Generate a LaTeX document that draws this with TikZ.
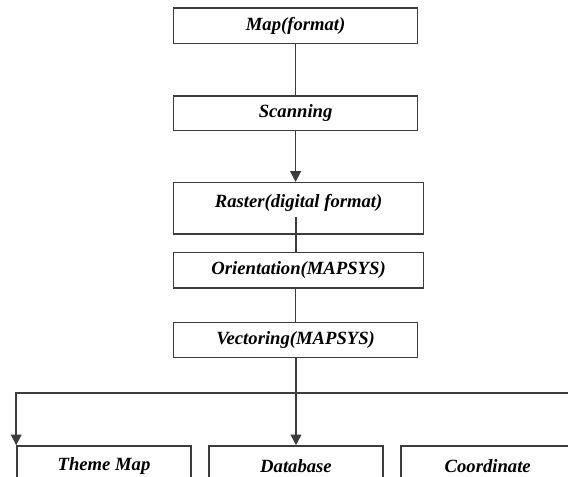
\documentclass[tikz,border=0pt]{standalone}
\usepackage{fontspec}
\setmainfont{Liberation Serif}
\usepackage{tikz}
\usetikzlibrary{
  arrows.meta,
  positioning
}
\definecolor{boxline}{RGB}{60, 60, 60}

\begin{document}
\begin{tikzpicture}[
  x=0.75pt, y=-0.75pt,
  stage/.style={
    draw=boxline, line width=1.2pt,
    fill=white,
    text=black, align=center, inner sep=2pt,
    font=\fontsize{14}{16}\selectfont\bfseries\itshape
  },
  link/.style={draw=boxline, line width=1.2pt},
  flow/.style={link, -{Triangle[width=8pt,length=8pt]}}
]
\useasboundingbox (0,0) rectangle (568,477);
\clip (0,0) rectangle (568,477);

% main chain
\node[stage, minimum width=183pt, minimum height=26.6pt] (map)  at (295.6, 25.8)  {Map(format)};
\node[stage, minimum width=183pt, minimum height=26.2pt] (scan) at (295.6, 113.2) {Scanning};
\node[stage, minimum width=187.5pt, minimum height=38.7pt, text depth=12pt] (ras) at (298.6, 208.5) {Raster(digital format)};
\node[stage, minimum width=187.5pt, minimum height=26.7pt] (ori)  at (298.6, 270.5) {Orientation(MAPSYS)};
\node[stage, minimum width=183pt, minimum height=26pt]   (vec)  at (295.6, 340)   {Vectoring(MAPSYS)};

% outputs
\node[stage, minimum width=130.5pt, minimum height=30pt] (theme) at (104, 466)   {Theme Map};
\node[stage, minimum width=130.5pt, minimum height=30pt] (db)    at (296, 466)   {Database};
\node[stage, minimum width=130.5pt, minimum height=30pt] (coord) at (487.7, 466) {Coordinate};

\coordinate (rasfoot) at (296, 217);
\coordinate (split)   at (296, 393);
\coordinate (far)     at (600, 393);

\draw[link] (map.south) -- (scan.north);
\draw[flow] (scan.south) -- (scan.south |- ras.north);
\draw[link] (rasfoot) -- (rasfoot |- ori.north);
\draw[link] (ori.south -| vec.north) -- (vec.north);
\draw[link] (vec.south -| split) -- (split);
\draw[flow] (split) -- (db.north);
\draw[flow] (split) -| (theme.north west);
\draw[link] (split) -- (far);
\end{tikzpicture}
\end{document}
